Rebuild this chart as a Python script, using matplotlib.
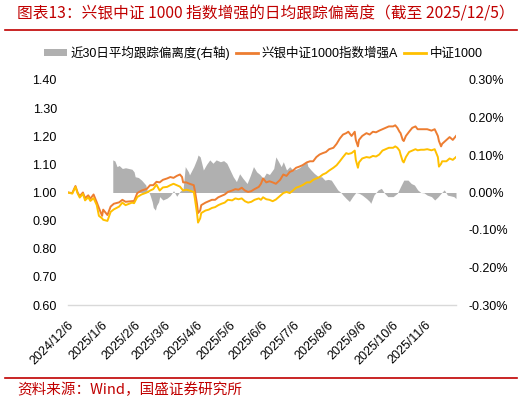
import matplotlib
matplotlib.use('Agg')
import matplotlib.pyplot as plt
from matplotlib.lines import Line2D
from matplotlib.patches import Patch
import pandas as pd

plt.rcParams['font.family'] = ['Liberation Sans', 'Noto Sans CJK SC']

line_dates = ["2024-12-06","2024-12-10","2024-12-13","2024-12-15","2024-12-17","2024-12-20","2024-12-22","2024-12-25","2024-12-27","2024-12-30",
"2025-01-02","2025-01-04","2025-01-07","2025-01-08","2025-01-12","2025-01-15","2025-01-18","2025-01-23","2025-01-26","2025-01-29",
"2025-02-04","2025-02-06","2025-02-09","2025-02-13","2025-02-18","2025-02-21","2025-02-24","2025-02-27","2025-03-02","2025-03-05",
"2025-03-09","2025-03-12","2025-03-15","2025-03-18","2025-03-21","2025-03-23","2025-03-24","2025-03-27","2025-03-30","2025-04-03",
"2025-04-04","2025-04-06","2025-04-07","2025-04-09","2025-04-10","2025-04-14","2025-04-17","2025-04-20","2025-04-23","2025-04-26",
"2025-04-29","2025-05-02","2025-05-05","2025-05-09","2025-05-12","2025-05-15","2025-05-18","2025-05-21","2025-05-24","2025-05-27",
"2025-05-30","2025-06-03","2025-06-05","2025-06-07","2025-06-10","2025-06-13","2025-06-16","2025-06-19","2025-06-23","2025-06-26",
"2025-06-29","2025-07-02","2025-07-05","2025-07-08","2025-07-11","2025-07-14","2025-07-18","2025-07-21","2025-07-24","2025-07-27",
"2025-07-30","2025-08-02","2025-08-05","2025-08-08","2025-08-12","2025-08-15","2025-08-18","2025-08-21","2025-08-24","2025-08-26",
"2025-08-29","2025-09-01","2025-09-02","2025-09-04","2025-09-05","2025-09-08","2025-09-12","2025-09-15","2025-09-18","2025-09-21",
"2025-09-24","2025-09-27","2025-09-30","2025-10-03","2025-10-07","2025-10-09","2025-10-11","2025-10-13","2025-10-14","2025-10-16",
"2025-10-17","2025-10-19","2025-10-22","2025-10-25","2025-10-28","2025-10-30","2025-11-02","2025-11-05","2025-11-08","2025-11-12",
"2025-11-15","2025-11-18","2025-11-19","2025-11-21","2025-11-22","2025-11-26","2025-11-29","2025-12-02","2025-12-05"]

enh_a = [1.000,0.998,1.023,1.000,0.987,1.000,0.980,0.990,0.978,0.993,
0.965,0.945,0.917,0.939,0.920,0.950,0.960,0.965,0.974,0.967,
0.969,0.970,0.998,1.007,1.013,1.026,1.026,1.038,1.036,1.045,
1.050,1.055,1.052,1.059,1.064,1.055,1.036,1.036,1.031,1.026,
1.007,0.960,0.927,0.936,0.955,0.964,0.969,0.974,0.974,0.983,
0.988,0.993,1.002,1.007,1.012,1.010,1.017,1.007,1.002,1.005,
1.012,1.020,1.031,1.050,1.036,1.040,1.036,1.031,1.045,1.064,
1.059,1.073,1.078,1.088,1.092,1.097,1.107,1.111,1.111,1.126,
1.135,1.140,1.144,1.154,1.159,1.173,1.192,1.206,1.211,1.216,
1.201,1.216,1.187,1.164,1.187,1.201,1.211,1.206,1.216,1.214,
1.220,1.225,1.230,1.235,1.235,1.239,1.230,1.216,1.211,1.187,
1.183,1.201,1.216,1.230,1.235,1.225,1.225,1.225,1.225,1.220,
1.225,1.201,1.183,1.164,1.173,1.187,1.197,1.187,1.201]

csi1000 = [1.000,0.996,1.020,0.997,0.982,0.995,0.972,0.983,0.970,0.980,
0.955,0.917,0.908,0.903,0.899,0.931,0.940,0.950,0.964,0.955,
0.964,0.962,0.984,0.993,1.000,1.007,1.012,1.028,1.007,1.018,
1.020,1.026,1.031,1.026,1.021,1.012,1.007,1.010,1.007,1.002,
0.979,0.927,0.893,0.908,0.927,0.936,0.939,0.945,0.948,0.955,
0.960,0.964,0.974,0.972,0.979,0.976,0.979,0.969,0.964,0.967,
0.974,0.979,0.974,0.983,0.976,0.974,0.969,0.975,0.988,0.998,
1.002,0.998,1.007,1.017,1.021,1.026,1.036,1.036,1.045,1.050,
1.055,1.064,1.069,1.078,1.088,1.097,1.111,1.126,1.140,1.137,
1.140,1.149,1.116,1.088,1.107,1.121,1.126,1.124,1.130,1.128,
1.135,1.149,1.154,1.159,1.159,1.164,1.159,1.149,1.135,1.111,
1.107,1.126,1.144,1.149,1.154,1.150,1.152,1.152,1.154,1.150,
1.154,1.126,1.092,1.102,1.111,1.111,1.121,1.116,1.126]

dev_dates = ["2025-01-17","2025-01-19","2025-01-21","2025-01-23","2025-01-26","2025-01-29","2025-02-01","2025-02-04","2025-02-06","2025-02-07",
"2025-02-10","2025-02-13","2025-02-17","2025-02-18","2025-02-20","2025-02-21","2025-02-23","2025-02-24","2025-02-26","2025-02-27",
"2025-03-01","2025-03-02","2025-03-05","2025-03-09","2025-03-12","2025-03-15","2025-03-18","2025-03-21","2025-03-24","2025-03-26",
"2025-03-29","2025-03-30","2025-04-03","2025-04-06","2025-04-07","2025-04-09","2025-04-12","2025-04-15","2025-04-18","2025-04-21",
"2025-04-24","2025-04-28","2025-05-01","2025-05-04","2025-05-07","2025-05-10","2025-05-13","2025-05-16","2025-05-19","2025-05-23",
"2025-05-26","2025-05-29","2025-06-01","2025-06-04","2025-06-07","2025-06-10","2025-06-13","2025-06-17","2025-06-19","2025-06-21",
"2025-06-24","2025-06-26","2025-06-29","2025-07-02","2025-07-05","2025-07-08","2025-07-11","2025-07-14","2025-07-18","2025-07-19",
"2025-07-22","2025-07-25","2025-07-29","2025-08-01","2025-08-04","2025-08-07","2025-08-10","2025-08-13","2025-08-16","2025-08-19",
"2025-08-21","2025-08-24","2025-08-27","2025-08-30","2025-09-02","2025-09-05","2025-09-08","2025-09-12","2025-09-15","2025-09-16",
"2025-09-19","2025-09-23","2025-09-26","2025-09-29","2025-10-02","2025-10-07","2025-10-11","2025-10-14","2025-10-17","2025-10-21",
"2025-10-24","2025-10-27","2025-10-30","2025-11-02","2025-11-05","2025-11-08","2025-11-12","2025-11-15","2025-11-18","2025-11-21",
"2025-11-24","2025-11-27","2025-11-30","2025-12-03","2025-12-05"]

dev30 = [0.087,0.084,0.069,0.072,0.064,0.066,0.064,0.062,0.055,0.042,
0.040,0.033,0.020,0.007,0.000,-0.007,-0.025,-0.040,-0.047,-0.035,
-0.025,-0.011,-0.020,-0.015,-0.008,0.005,-0.010,0.003,0.010,0.069,
0.055,0.047,0.069,0.090,0.100,0.095,0.060,0.075,0.087,0.078,
0.087,0.082,0.085,0.078,0.060,0.042,0.029,0.050,0.038,0.024,
0.045,0.069,0.055,0.048,0.038,0.052,0.048,0.064,0.095,0.085,
0.069,0.082,0.060,0.069,0.060,0.062,0.066,0.073,0.082,0.070,
0.060,0.051,0.042,0.042,0.033,0.035,0.033,0.020,0.007,0.000,
-0.007,-0.016,-0.024,-0.011,0.000,-0.002,-0.007,-0.016,-0.024,-0.029,
-0.007,0.007,0.011,-0.002,-0.011,-0.011,-0.002,0.016,0.033,0.033,
0.024,0.020,0.007,0.000,-0.001,-0.007,-0.011,-0.020,-0.012,-0.002,
0.007,-0.007,-0.009,-0.011,-0.016]

tick_dates = ["2024-12-06","2025-01-06","2025-02-06","2025-03-06","2025-04-06","2025-05-06",
              "2025-06-06","2025-07-06","2025-08-06","2025-09-06","2025-10-06","2025-11-06"]
tick_labels = ["2024/12/6","2025/1/6","2025/2/6","2025/3/6","2025/4/6","2025/5/6",
               "2025/6/6","2025/7/6","2025/8/6","2025/9/6","2025/10/6","2025/11/6"]
left_ticks = [0.60, 0.70, 0.80, 0.90, 1.00, 1.10, 1.20, 1.30, 1.40]
right_ticks = [-0.30, -0.20, -0.10, 0.00, 0.10, 0.20, 0.30]

series_names = ["近30日平均跟踪偏离度(右轴)", "兴银中证1000指数增强A", "中证1000"]
title = "图表13：兴银中证 1000 指数增强的日均跟踪偏离度（截至 2025/12/5）"
source = "资料来源：Wind，国盛证券研究所"

RED = '#C00000'
ORANGE = '#ED7D31'
YELLOW = '#FFC000'
GRAY = '#B0B0B0'

ld = pd.to_datetime(line_dates)
dd = pd.to_datetime(dev_dates)

fig = plt.figure(figsize=(5.32, 4.03), dpi=100)
ax = fig.add_axes([68/532, 1-305/403, (456-68)/532, (305-80)/403])
ax2 = ax.twinx()

ax2.fill_between(dd, 0, dev30, color=GRAY, linewidth=0)
ax2.set_ylim(-0.30, 0.30)
ax2.set_yticks(right_ticks)
ax2.set_yticklabels([f"{v:.2f}%" for v in right_ticks])

ax.plot(ld, enh_a, color=ORANGE, lw=1.4)
ax.plot(ld, csi1000, color=YELLOW, lw=1.4)
ax.set_ylim(0.60, 1.40)
ax.set_yticks(left_ticks)
ax.set_yticklabels([f"{v:.2f}" for v in left_ticks])
ax.set_xlim(pd.Timestamp("2024-12-06"), pd.Timestamp("2025-12-05"))
ax.set_xticks(pd.to_datetime(tick_dates))
ax.set_xticklabels(tick_labels, rotation=45, ha='right', rotation_mode='anchor')

ax.set_zorder(ax2.get_zorder() + 1)
ax.patch.set_visible(False)

for a in (ax, ax2):
    for s in ('top', 'left', 'right', 'bottom'):
        a.spines[s].set_visible(False)
    a.tick_params(length=0, labelsize=9, colors='#000000')
ax.spines['bottom'].set_visible(True)
ax.spines['bottom'].set_color('#D9D9D9')
ax.spines['bottom'].set_linewidth(1.0)
ax.tick_params(axis='y', pad=8)
ax.tick_params(axis='x', pad=10)
ax2.tick_params(axis='y', pad=9)

handles = [Patch(facecolor=GRAY, edgecolor='none'),
           Line2D([], [], color=ORANGE, lw=2),
           Line2D([], [], color=YELLOW, lw=2)]
fig.legend(handles, series_names, loc='center left', bbox_to_anchor=(44/532, 1-53/403),
           ncol=3, frameon=False, fontsize=9, handlelength=1.8, handleheight=0.5,
           handletextpad=0.3, columnspacing=0.45, borderpad=0, borderaxespad=0)

fig.add_artist(Line2D([5/532, 517/532], [1-30/403, 1-30/403], color=RED, lw=1.2))
fig.add_artist(Line2D([5/532, 517/532], [1-378/403, 1-378/403], color=RED, lw=1.2))
fig.text(17/532, 1-14/403, title, ha='left', va='center', fontsize=11.3, color=RED,
         family=['Noto Sans CJK SC', 'DejaVu Sans'])
fig.text(17/532, 1-390/403, source, ha='left', va='center', fontsize=10.5, color=RED,
         family=['Noto Sans CJK SC', 'DejaVu Sans'])

fig.savefig('out.png', dpi=100)
